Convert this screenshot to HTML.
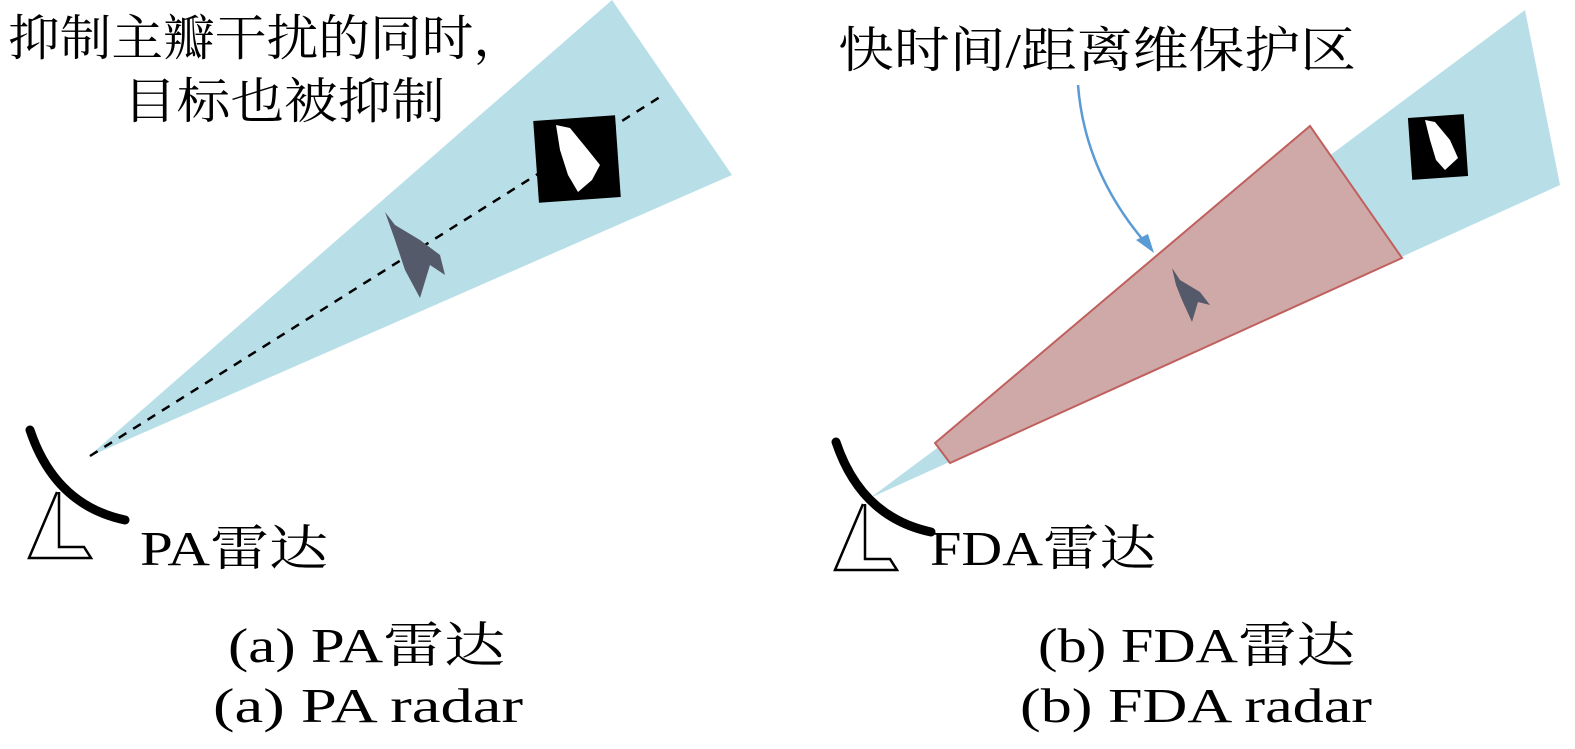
<!DOCTYPE html>
<html><head><meta charset="utf-8"><style>
body{margin:0;background:#fff;}
svg text{font-family:"Liberation Serif","Noto Serif CJK SC",serif;fill:#000;}
</style></head><body>
<svg width="1575" height="744" viewBox="0 0 1575 744" xmlns="http://www.w3.org/2000/svg">
<defs>
<g id="dish">
<path d="M30,430 Q55,505 125,520" stroke="#000" stroke-width="9" fill="none" stroke-linecap="round"/>
<path d="M57,492 L29,558 L91,558 L84,547 L59,547 L59,492" stroke="#000" stroke-width="2.5" fill="none"/>
</g>
</defs>
<polygon points="88,457 612,0 732,175" fill="#b8dfe8"/>
<line x1="90" y1="456" x2="660" y2="97" stroke="#000" stroke-width="2.5" stroke-dasharray="9,8"/>
<use href="#dish"/>
<rect x="536" y="118" width="82" height="82" fill="#000" transform="rotate(-4 577 159)"/>
<path d="M556,125 L570,128 L588,150 L600,165 L592,180 L578,192 L568,175 L560,150 Z" fill="#fff"/>
<path d="M385,212 L395,225 L420,240 L440,255 L445,275 L430,265 L420,298 L405,270 L395,240 Z" fill="#555a6a"/>
<text x="8" y="55" font-size="49" textLength="517" lengthAdjust="spacingAndGlyphs">抑制主瓣干扰的同时，</text>
<text x="123" y="118" font-size="49" textLength="322" lengthAdjust="spacingAndGlyphs">目标也被抑制</text>
<text x="140" y="565" font-size="49" textLength="188" lengthAdjust="spacingAndGlyphs">PA雷达</text>
<text x="228" y="662" font-size="49" textLength="277" lengthAdjust="spacingAndGlyphs">(a) PA雷达</text>
<text x="213" y="722" font-size="49" textLength="310" lengthAdjust="spacingAndGlyphs">(a) PA radar</text>
<polygon points="870,498 1525,10 1560,185" fill="#b8dfe8"/>
<polygon points="935,443 1310,126 1402,258 950,463" fill="#cfa9a8" stroke="#c0605e" stroke-width="2"/>
<use href="#dish" transform="translate(806,12)"/>
<rect x="1410" y="116" width="56" height="62" fill="#000" transform="rotate(-4 1438 147)"/>
<path d="M1425,120 L1435,122 L1450,140 L1458,158 L1445,170 L1436,160 L1430,140 Z" fill="#fff"/>
<path d="M1172,268 L1180,280 L1200,292 L1210,305 L1198,302 L1192,322 L1182,300 L1176,285 Z" fill="#555a6a"/>
<path d="M1078,85 Q1085,175 1150,248" stroke="#5b9bd5" stroke-width="2.5" fill="none"/>
<polygon points="1154,253 1136,240 1148,234" fill="#5b9bd5"/>
<text x="838" y="67" font-size="49" textLength="518" lengthAdjust="spacingAndGlyphs">快时间/距离维保护区</text>
<text x="930" y="565" font-size="49" textLength="226" lengthAdjust="spacingAndGlyphs">FDA雷达</text>
<text x="1038" y="662" font-size="49" textLength="317" lengthAdjust="spacingAndGlyphs">(b) FDA雷达</text>
<text x="1020" y="722" font-size="49" textLength="352" lengthAdjust="spacingAndGlyphs">(b) FDA radar</text>
</svg>
</body></html>
